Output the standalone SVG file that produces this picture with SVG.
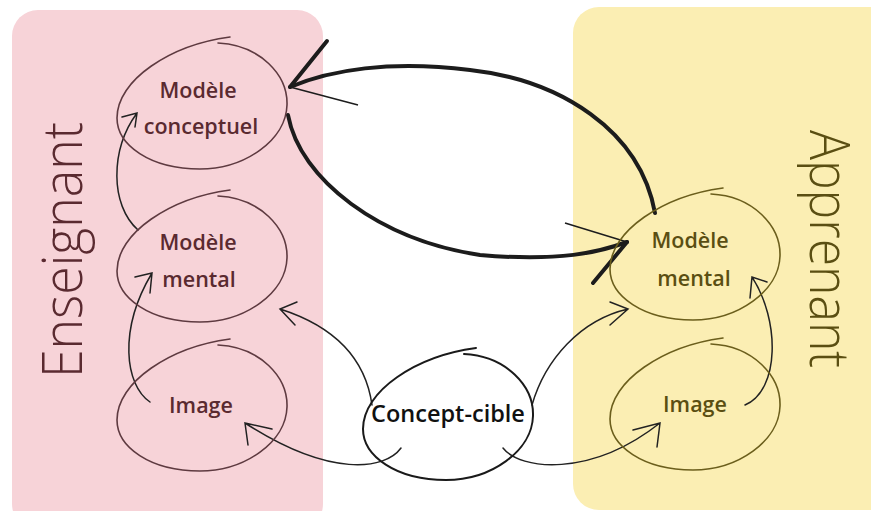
<svg xmlns="http://www.w3.org/2000/svg" width="871" height="511" viewBox="0 0 871 511">
<style>
.lbl{font-family:"Open Sans","Noto Sans",sans-serif;font-weight:600;font-size:21.5px;text-anchor:middle}
.lt{fill:#5a2a30}
.rt{fill:#5a4e12}
.side{font-family:"Open Sans","Lato",sans-serif;font-weight:300;font-size:56px;text-anchor:middle}
.eggL{fill:none;stroke:#5e3a40;stroke-width:1.6;stroke-linecap:round}
.eggR{fill:none;stroke:#6b5e1c;stroke-width:1.6;stroke-linecap:round}
.eggC{fill:none;stroke:#1a1a1a;stroke-width:2;stroke-linecap:round}
.thin{fill:none;stroke:#222;stroke-width:1.5;stroke-linecap:round}
.bold{fill:none;stroke:#1c1c1c;stroke-width:4;stroke-linecap:round}
</style>
<defs>
<path id="egg" d="M101,6 C143,8 171,38 170,68 C169,103 128,132 83,132 C33,132 0,108 0,81 C0,43 53,8 113,0"/>
</defs>
<rect x="12" y="10" width="311" height="520" rx="26" fill="#f7d3d8"/>
<rect x="573" y="7" width="330" height="503" rx="26" fill="#fbeeb3"/>
<text class="side lt" transform="translate(82,250) rotate(-90)" textLength="256" lengthAdjust="spacingAndGlyphs">Enseignant</text>
<text class="side rt" transform="translate(810,249) rotate(90)" textLength="238" lengthAdjust="spacingAndGlyphs">Apprenant</text>
<g id="connectors">
<path class="thin" d="M150,402 C125,385 118,330 152,273 M135,277 L152,273 L150,293"/>
<path class="thin" d="M138,230 C110,205 110,150 137,113 M122,117 L137,113 L135,127"/>
<path class="thin" d="M745,405 C780,390 780,320 752,277 M767,282 L752,277 L750,298"/>
<path class="thin" d="M372,405 C365,355 330,325 280,309 M297,302 L280,309 L295,325"/>
<path class="thin" d="M401,448 C385,470 330,478 245,423 M272,429 L245,423 L248,445"/>
<path class="thin" d="M532,405 C545,360 580,320 628,309 M610,302 L628,309 L610,325"/>
<path class="thin" d="M503,448 C520,470 590,478 660,423 M633,430 L660,423 L657,447"/>
<path class="bold" d="M655,213 C640,130 560,80 470,70 C390,60 330,70 290,87"/>
<path class="bold" d="M290,87 L327,41"/>
<path fill="none" stroke="#1c1c1c" stroke-width="1.5" d="M290,87 L358,105"/>
<path class="bold" d="M288,115 C300,180 380,240 480,255 C560,262 600,252 627,242"/>
<path class="bold" d="M627,242 L593,283"/>
<path fill="none" stroke="#1c1c1c" stroke-width="1.5" d="M627,242 L565,223"/>
</g>
<g id="ens-conceptuel">
<use href="#egg" class="eggL" transform="translate(117,37)"/>
<text class="lbl lt" x="198" y="98">Modèle</text>
<text class="lbl lt" x="201" y="134">conceptuel</text>
</g>
<g id="ens-mental">
<use href="#egg" class="eggL" transform="translate(117,190)"/>
<text class="lbl lt" x="198" y="250">Modèle</text>
<text class="lbl lt" x="199" y="287">mental</text>
</g>
<g id="ens-image">
<use href="#egg" class="eggL" transform="translate(117,339)"/>
<text class="lbl lt" x="201" y="413">Image</text>
</g>
<g id="app-mental">
<use href="#egg" class="eggR" transform="translate(610,188)"/>
<text class="lbl rt" x="690" y="248">Modèle</text>
<text class="lbl rt" x="694" y="286">mental</text>
</g>
<g id="app-image">
<use href="#egg" class="eggR" transform="translate(610,338)"/>
<text class="lbl rt" x="695" y="412">Image</text>
</g>
<g id="concept-cible">
<use href="#egg" class="eggC" transform="translate(363,348)"/>
<text class="lbl" x="448" y="422" fill="#111" style="font-size:23.5px">Concept-cible</text>
</g>
</svg>
